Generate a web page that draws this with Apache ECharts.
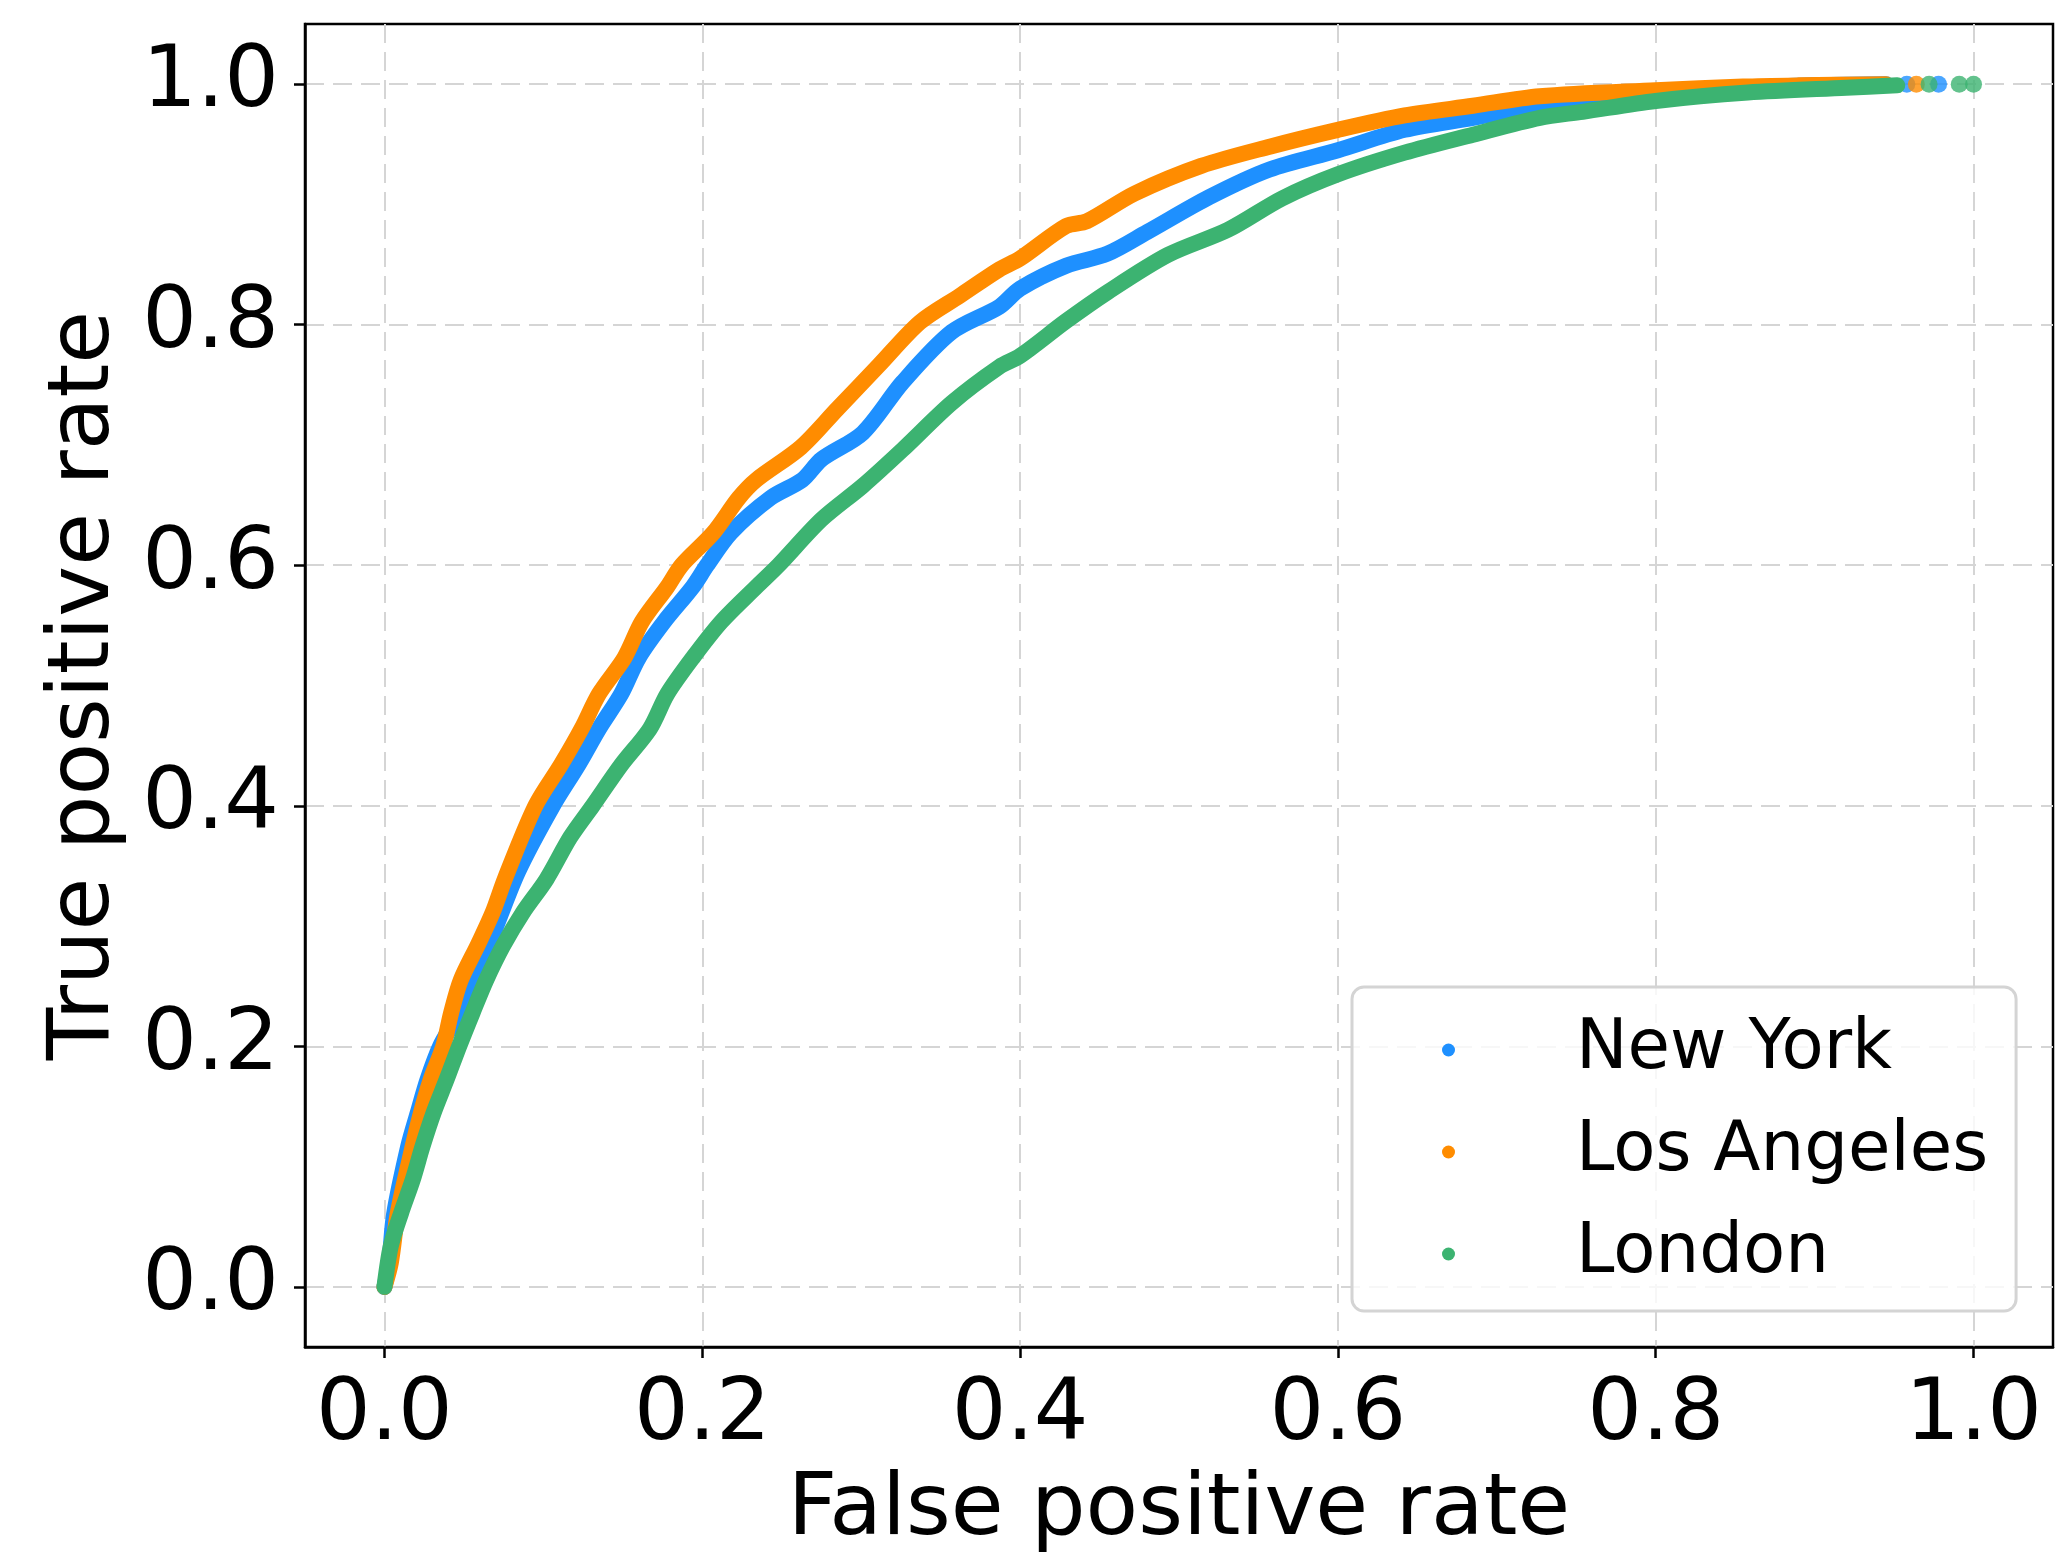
<!DOCTYPE html>
<html>
<head>
<meta charset="utf-8">
<script src="https://cdn.jsdelivr.net/npm/echarts@6/dist/echarts.min.js"></script>
<style>
  html, body { margin: 0; padding: 0; background: #fff; }
  #roc_container { width: 2060px; height: 1553px; }
</style>
</head>
<body>
<div id="roc_container"></div>
<script>
// ROC curves: false positive rate / true positive rate
const cities = ['New York', 'Los Angeles', 'London']
const colors = ['#1e90ff', '#ff8c00', '#3cb371']
const tickValues = [0, 0.2, 0.4, 0.6, 0.8, 1.0]

const nyFpr = [0, 0.003, 0.006, 0.015, 0.021, 0.027, 0.035, 0.046, 0.066, 0.084, 0.106, 0.122, 0.135, 0.149, 0.16, 0.176, 0.194, 0.203, 0.218, 0.243, 0.263, 0.275, 0.301, 0.326, 0.357, 0.387, 0.4, 0.429, 0.455, 0.48, 0.519, 0.557, 0.6, 0.642, 0.685, 0.727, 0.754, 0.8, 0.86, 0.9, 0.945]
const nyTpr = [0, 0.02, 0.06, 0.117, 0.145, 0.172, 0.2, 0.226, 0.2855, 0.345, 0.4, 0.434, 0.464, 0.493, 0.523, 0.553, 0.582, 0.6, 0.627, 0.656, 0.671, 0.688, 0.71, 0.752, 0.794, 0.815, 0.83, 0.849, 0.859, 0.877, 0.906, 0.929, 0.945, 0.962, 0.972, 0.982, 0.985, 0.992, 0.997, 0.999, 1.0]
const nyTailFpr = [0.958, 0.978]
const nyTailTpr = [1.0, 1.0]

const laFpr = [0, 0.004, 0.0084, 0.0178, 0.023, 0.029, 0.037, 0.042, 0.048, 0.059, 0.068, 0.076, 0.095, 0.111, 0.124, 0.135, 0.151, 0.162, 0.178, 0.187, 0.207, 0.223, 0.234, 0.262, 0.285, 0.311, 0.337, 0.362, 0.387, 0.4, 0.429, 0.442, 0.472, 0.514, 0.557, 0.6, 0.642, 0.685, 0.727, 0.8, 0.855, 0.89, 0.945]
const laTpr = [0, 0.02, 0.0615, 0.117, 0.145, 0.172, 0.2, 0.228, 0.255, 0.285, 0.311, 0.34, 0.4, 0.434, 0.464, 0.493, 0.523, 0.553, 0.582, 0.6, 0.627, 0.656, 0.671, 0.698, 0.73, 0.766, 0.802, 0.824, 0.846, 0.855, 0.882, 0.886, 0.909, 0.932, 0.948, 0.962, 0.974, 0.982, 0.99, 0.995, 0.998, 0.999, 1.0]
const laTailFpr = [0.964]
const laTailTpr = [1.0]

const ldFpr = [0, 0.004, 0.0105, 0.0178, 0.024, 0.031, 0.039, 0.047, 0.0555, 0.064, 0.0744, 0.087, 0.102, 0.117, 0.131, 0.149, 0.167, 0.178, 0.194, 0.212, 0.234, 0.248, 0.275, 0.301, 0.326, 0.357, 0.387, 0.4, 0.429, 0.455, 0.493, 0.531, 0.565, 0.6, 0.642, 0.685, 0.727, 0.754, 0.8, 0.858, 0.92, 0.952]
const ldTpr = [0, 0.034, 0.0615, 0.089, 0.117, 0.145, 0.172, 0.2, 0.228, 0.255, 0.283, 0.311, 0.339, 0.374, 0.4, 0.434, 0.464, 0.493, 0.523, 0.553, 0.582, 0.6, 0.638, 0.666, 0.696, 0.735, 0.765, 0.774, 0.803, 0.827, 0.858, 0.879, 0.905, 0.925, 0.943, 0.958, 0.972, 0.977, 0.986, 0.993, 0.997, 0.999]
const ldTailFpr = [0.972, 0.991, 1.0]
const ldTailTpr = [1.0, 1.0, 1.0]

const zip = (xs, ys) => xs.map((x, i) => [x, ys[i]])
const curves = [zip(nyFpr, nyTpr), zip(laFpr, laTpr), zip(ldFpr, ldTpr)]
const tails = [zip(nyTailFpr, nyTailTpr), zip(laTailFpr, laTailTpr), zip(ldTailFpr, ldTailTpr)]

const font = 'DejaVu Sans'
const lineSize = 16
const dotSize = 17

const gridLine = {
  show: true,
  lineStyle: { color: '#d5d5d5', width: 2, type: [19, 9] }
}

function valueAxis(name, nameGap, labelMargin) {
  return {
    type: 'value',
    min: -0.05,
    max: 1.05,
    name: name,
    nameLocation: 'middle',
    nameGap: nameGap,
    nameTextStyle: { fontFamily: font, fontSize: 86, color: '#000' },
    axisLine: { show: true, onZero: false, lineStyle: { color: '#000', width: 2.5 } },
    axisTick: {
      show: true,
      customValues: tickValues,
      length: 11,
      lineStyle: { color: '#000', width: 2.5 }
    },
    axisLabel: {
      customValues: tickValues,
      margin: labelMargin,
      fontFamily: font,
      fontSize: 86,
      color: '#000',
      formatter: v => v.toFixed(1)
    },
    splitLine: gridLine
  }
}

const chart = echarts.init(document.getElementById('roc_container'), null, { renderer: 'canvas' })

const series = []
cities.forEach((name, i) => {
  series.push({
    name: name,
    type: 'line',
    data: curves[i],
    showSymbol: false,
    smooth: 0.3,
    animation: false,
    color: colors[i],
    lineStyle: { width: lineSize, color: colors[i], cap: 'round', join: 'round' },
    z: 2 + i
  })
  series.push({
    name: name,
    type: 'scatter',
    data: tails[i],
    symbol: 'circle',
    symbolSize: dotSize,
    animation: false,
    itemStyle: { color: colors[i] },
    z: 2 + i
  })
})

chart.setOption({
  animation: false,
  grid: {
    left: 305,
    top: 24,
    right: 7,
    bottom: 206,
    outerBoundsMode: 'none',
    containLabel: false,
    show: true,
    borderColor: '#000',
    borderWidth: 2.5,
    backgroundColor: 'transparent'
  },
  xAxis: valueAxis('False positive rate', 122, 27),
  yAxis: valueAxis('True positive rate', 176, 26),
  legend: {
    data: cities,
    orient: 'vertical',
    left: 1352,
    top: 987,
    icon: 'circle',
    itemWidth: 13,
    itemHeight: 13,
    itemGap: 22,
    padding: [23, 28, 17, 90],
    backgroundColor: 'rgba(255,255,255,0.8)',
    borderColor: '#d4d4d4',
    borderWidth: 3,
    borderRadius: 12,
    textStyle: {
      fontFamily: font,
      fontSize: 69,
      lineHeight: 80,
      color: '#000',
      padding: [0, 0, 0, 116]
    }
  },
  series: series
})
</script>
</body>
</html>
